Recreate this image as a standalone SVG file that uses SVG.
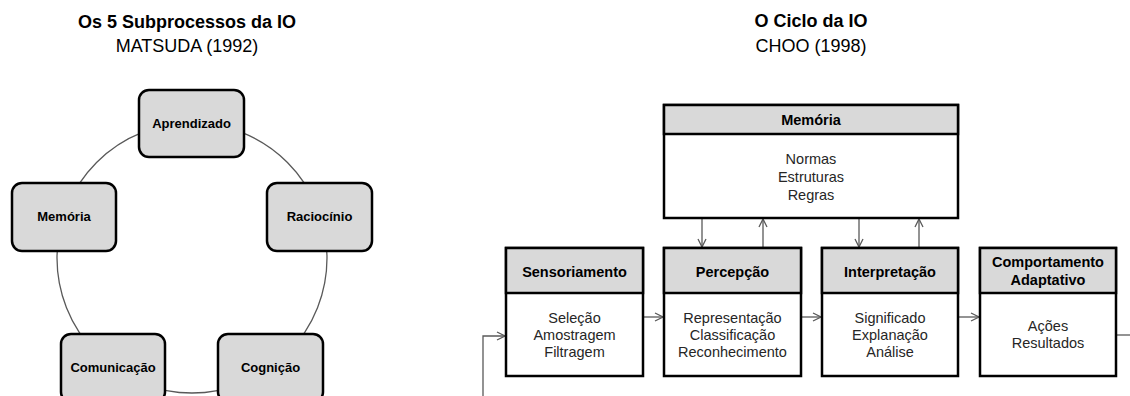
<svg xmlns="http://www.w3.org/2000/svg" width="1130" height="396" viewBox="0 0 1130 396">
<defs>
<style>
.t{font-family:"Liberation Sans",Arial,sans-serif;fill:#000;text-anchor:middle}
.tb{font-weight:bold}
.rn{fill:#d9d9d9;stroke:#000;stroke-width:2.5}
.bx{fill:#fff;stroke:#000;stroke-width:2.5}
.hd{fill:#d9d9d9;stroke:#000;stroke-width:2.5}
.ln{fill:none;stroke:#595959;stroke-width:1.3}
.nl{font-size:13px}
.hl{font-size:14.5px}
.bl{font-size:14.5px;fill:#262626}
</style>
<marker id="ah" viewBox="0 0 10 10" refX="9" refY="5" markerWidth="10" markerHeight="10" markerUnits="userSpaceOnUse" orient="auto">
<path d="M1,1 L9,5 L1,9" fill="none" stroke="#595959" stroke-width="1.3"/>
</marker>
</defs>
<rect width="1130" height="396" fill="#fff"/>

<g id="titles">
<text class="t tb" x="187" y="28" font-size="18">Os 5 Subprocessos da IO</text>
<text class="t" x="187" y="52" font-size="18">MATSUDA (1992)</text>
<text class="t tb" x="811" y="27" font-size="18">O Ciclo da IO</text>
<text class="t" x="811" y="52" font-size="18">CHOO (1998)</text>
</g>

<g id="connectors">
<circle cx="192" cy="258" r="135" class="ln" stroke="#555" stroke-width="1"/>
<line class="ln" x1="643" y1="317" x2="663" y2="317" marker-end="url(#ah)"/>
<line class="ln" x1="801" y1="317" x2="821" y2="317" marker-end="url(#ah)"/>
<line class="ln" x1="958" y1="317" x2="979" y2="317" marker-end="url(#ah)"/>
<line class="ln" x1="1116" y1="335" x2="1130" y2="335"/>
<polyline class="ln" points="483,396 483,336 505,336" marker-end="url(#ah)"/>
<line class="ln" x1="702" y1="218" x2="702" y2="247" marker-end="url(#ah)"/>
<line class="ln" x1="763" y1="248" x2="763" y2="219" marker-end="url(#ah)"/>
<line class="ln" x1="859" y1="218" x2="859" y2="247" marker-end="url(#ah)"/>
<line class="ln" x1="919" y1="248" x2="919" y2="219" marker-end="url(#ah)"/>
</g>

<g id="n-aprendizado">
<rect class="rn" x="139" y="90" width="105" height="67" rx="10"/>
<text class="t tb nl" x="191.5" y="128">Aprendizado</text>
</g>
<g id="n-memoria-l">
<rect class="rn" x="12" y="183" width="104" height="68" rx="10"/>
<text class="t tb nl" x="64" y="221">Memória</text>
</g>
<g id="n-raciocinio">
<rect class="rn" x="267" y="183" width="105" height="68" rx="10"/>
<text class="t tb nl" x="319.5" y="221">Raciocínio</text>
</g>
<g id="n-comunicacao">
<rect class="rn" x="61" y="334" width="104" height="68" rx="10"/>
<text class="t tb nl" x="113" y="372">Comunicação</text>
</g>
<g id="n-cognicao">
<rect class="rn" x="218" y="334" width="105" height="68" rx="10"/>
<text class="t tb nl" x="270.5" y="372">Cognição</text>
</g>

<g id="n-memoria">
<rect class="bx" x="664" y="105" width="294" height="113"/>
<rect class="hd" x="664" y="105" width="294" height="29"/>
<text class="t tb hl" x="811" y="125">Memória</text>
<text class="t bl" x="811" y="164">Normas</text>
<text class="t bl" x="811" y="182">Estruturas</text>
<text class="t bl" x="811" y="200">Regras</text>
</g>
<g id="n-sensoriamento">
<rect class="bx" x="506" y="248" width="137" height="128"/>
<rect class="hd" x="506" y="248" width="137" height="45"/>
<text class="t tb hl" x="574.5" y="277">Sensoriamento</text>
<text class="t bl" x="574.5" y="323">Seleção</text>
<text class="t bl" x="574.5" y="340">Amostragem</text>
<text class="t bl" x="574.5" y="357">Filtragem</text>
</g>
<g id="n-percepcao">
<rect class="bx" x="664" y="248" width="137" height="128"/>
<rect class="hd" x="664" y="248" width="137" height="45"/>
<text class="t tb hl" x="732.5" y="277">Percepção</text>
<text class="t bl" x="732.5" y="323">Representação</text>
<text class="t bl" x="732.5" y="340">Classificação</text>
<text class="t bl" x="732.5" y="357">Reconhecimento</text>
</g>
<g id="n-interpretacao">
<rect class="bx" x="822" y="248" width="136" height="128"/>
<rect class="hd" x="822" y="248" width="136" height="45"/>
<text class="t tb hl" x="890" y="277">Interpretação</text>
<text class="t bl" x="890" y="323">Significado</text>
<text class="t bl" x="890" y="340">Explanação</text>
<text class="t bl" x="890" y="357">Análise</text>
</g>
<g id="n-comportamento">
<rect class="bx" x="980" y="248" width="136" height="128"/>
<rect class="hd" x="980" y="248" width="136" height="45"/>
<text class="t tb hl" x="1048" y="267">Comportamento</text>
<text class="t tb hl" x="1048" y="285">Adaptativo</text>
<text class="t bl" x="1048" y="331">Ações</text>
<text class="t bl" x="1048" y="348">Resultados</text>
</g>
</svg>
